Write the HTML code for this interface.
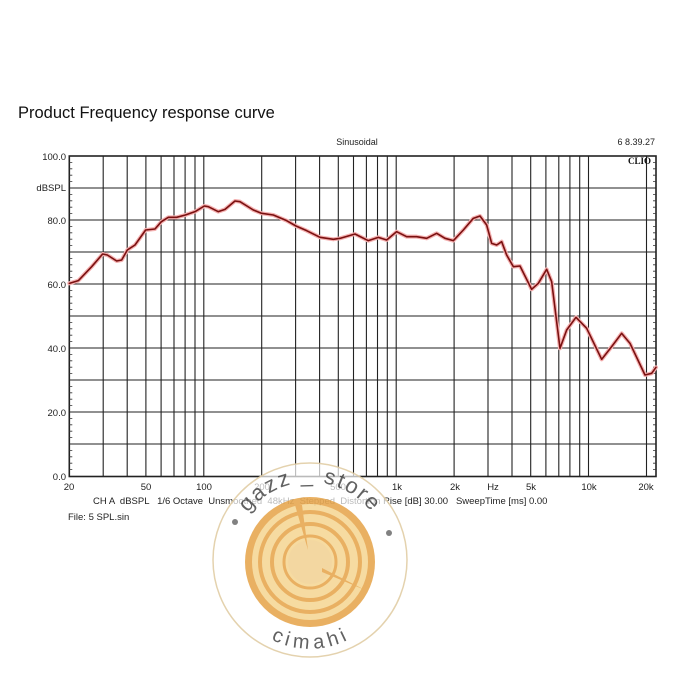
<!DOCTYPE html>
<html><head><meta charset="utf-8"><style>
html,body{margin:0;padding:0;background:#fff;}
svg{display:block;font-family:"Liberation Sans",sans-serif;}
</style></head><body>
<svg width="684" height="684" viewBox="0 0 684 684" xmlns="http://www.w3.org/2000/svg">
<rect width="684" height="684" fill="#fff"/>
<text x="18" y="118" font-size="16.5" fill="#111">Product Frequency response curve</text>
<text x="357" y="145" font-size="9" text-anchor="middle" fill="#222">Sinusoidal</text>
<text x="655" y="145" font-size="9" text-anchor="end" fill="#222">6 8.39.27</text>
<g stroke="#222" stroke-width="1.1">
<line x1="69.3" y1="188" x2="656" y2="188"/><line x1="69.3" y1="220" x2="656" y2="220"/>
<line x1="69.3" y1="252" x2="656" y2="252"/><line x1="69.3" y1="284" x2="656" y2="284"/>
<line x1="69.3" y1="316" x2="656" y2="316"/><line x1="69.3" y1="348" x2="656" y2="348"/>
<line x1="69.3" y1="380" x2="656" y2="380"/><line x1="69.3" y1="412" x2="656" y2="412"/>
<line x1="69.3" y1="444" x2="656" y2="444"/>
<line x1="103.2" y1="156" x2="103.2" y2="476"/><line x1="127.2" y1="156" x2="127.2" y2="476"/>
<line x1="145.9" y1="156" x2="145.9" y2="476"/><line x1="161.1" y1="156" x2="161.1" y2="476"/>
<line x1="174" y1="156" x2="174" y2="476"/><line x1="185.1" y1="156" x2="185.1" y2="476"/>
<line x1="195" y1="156" x2="195" y2="476"/><line x1="203.8" y1="156" x2="203.8" y2="476"/>
<line x1="261.7" y1="156" x2="261.7" y2="476"/><line x1="295.6" y1="156" x2="295.6" y2="476"/>
<line x1="319.6" y1="156" x2="319.6" y2="476"/><line x1="338.3" y1="156" x2="338.3" y2="476"/>
<line x1="353.5" y1="156" x2="353.5" y2="476"/><line x1="366.4" y1="156" x2="366.4" y2="476"/>
<line x1="377.5" y1="156" x2="377.5" y2="476"/><line x1="387.3" y1="156" x2="387.3" y2="476"/>
<line x1="396.2" y1="156" x2="396.2" y2="476"/><line x1="454.1" y1="156" x2="454.1" y2="476"/>
<line x1="488" y1="156" x2="488" y2="476"/><line x1="512" y1="156" x2="512" y2="476"/>
<line x1="530.7" y1="156" x2="530.7" y2="476"/><line x1="545.9" y1="156" x2="545.9" y2="476"/>
<line x1="558.8" y1="156" x2="558.8" y2="476"/><line x1="569.9" y1="156" x2="569.9" y2="476"/>
<line x1="579.7" y1="156" x2="579.7" y2="476"/><line x1="588.5" y1="156" x2="588.5" y2="476"/>
<line x1="646.5" y1="156" x2="646.5" y2="476"/>
</g>
<rect x="69.3" y="156" width="586.7" height="320.5" fill="none" stroke="#222" stroke-width="1.6"/>
<g stroke="#333" stroke-width="0.8">
<path d="M69.3 162.4h3M69.3 168.8h3M69.3 175.2h3M69.3 181.6h3M69.3 194.4h3M69.3 200.8h3M69.3 207.2h3M69.3 213.6h3M69.3 226.4h3M69.3 232.8h3M69.3 239.2h3M69.3 245.6h3M69.3 258.4h3M69.3 264.8h3M69.3 271.2h3M69.3 277.6h3M69.3 290.4h3M69.3 296.8h3M69.3 303.2h3M69.3 309.6h3M69.3 322.4h3M69.3 328.8h3M69.3 335.2h3M69.3 341.6h3M69.3 354.4h3M69.3 360.8h3M69.3 367.2h3M69.3 373.6h3M69.3 386.4h3M69.3 392.8h3M69.3 399.2h3M69.3 405.6h3M69.3 418.4h3M69.3 424.8h3M69.3 431.2h3M69.3 437.6h3M69.3 450.4h3M69.3 456.8h3M69.3 463.2h3M69.3 469.6h3"/>
<path d="M656 162.4h-3M656 168.8h-3M656 175.2h-3M656 181.6h-3M656 194.4h-3M656 200.8h-3M656 207.2h-3M656 213.6h-3M656 226.4h-3M656 232.8h-3M656 239.2h-3M656 245.6h-3M656 258.4h-3M656 264.8h-3M656 271.2h-3M656 277.6h-3M656 290.4h-3M656 296.8h-3M656 303.2h-3M656 309.6h-3M656 322.4h-3M656 328.8h-3M656 335.2h-3M656 341.6h-3M656 354.4h-3M656 360.8h-3M656 367.2h-3M656 373.6h-3M656 386.4h-3M656 392.8h-3M656 399.2h-3M656 405.6h-3M656 418.4h-3M656 424.8h-3M656 431.2h-3M656 437.6h-3M656 450.4h-3M656 456.8h-3M656 463.2h-3M656 469.6h-3"/>
</g>
<text x="628" y="164" font-size="9" font-weight="bold" font-family="Liberation Serif,serif" fill="#111">CLIO</text>
<g font-size="9.5" fill="#222" text-anchor="end">
<text x="66" y="160">100.0</text><text x="66" y="191">dBSPL</text>
<text x="66" y="224">80.0</text><text x="66" y="288">60.0</text>
<text x="66" y="352">40.0</text><text x="66" y="416">20.0</text><text x="66" y="480">0.0</text>
</g>
<g font-size="9.5" fill="#222" text-anchor="middle">
<text x="69" y="490">20</text><text x="146" y="490">50</text><text x="204" y="490">100</text>
<text x="262" y="490">200</text><text x="338" y="490">500</text><text x="397" y="490">1k</text>
<text x="455" y="490">2k</text><text x="493" y="490">Hz</text><text x="531" y="490">5k</text>
<text x="589" y="490">10k</text><text x="646" y="490">20k</text>
</g>
<text x="93" y="504" font-size="9.5" fill="#222" xml:space="preserve">CH A  dBSPL   1/6 Octave  Unsmoothed  48kHz  Stepped  Distortion Rise [dB] 30.00   SweepTime [ms] 0.00</text>
<text x="68" y="520" font-size="9.5" fill="#222">File: 5 SPL.sin</text>
<g transform="translate(20,130) scale(0.33333)" fill="none" stroke-linejoin="round" stroke-linecap="round">
<path stroke="#f4b0b0" stroke-width="4" vector-effect="non-scaling-stroke" d="M148 460 L175 452 L215 410 L248 372 L262 375 L290 393 L305 390 L322 360 L345 345 L377 300 L405 297 L424 275 L445 262 L470 262 L496 255 L525 245 L553 228 L565 230 L595 245 L615 238 L645 213 L660 215 L700 240 L725 250 L760 255 L800 272 L828 288 L860 302 L900 322 L940 328 L960 325 L1005 312 L1045 332 L1075 322 L1100 330 L1130 305 L1160 320 L1190 320 L1220 325 L1250 310 L1275 325 L1300 332 L1330 300 L1360 265 L1380 258 L1400 285 L1415 340 L1430 345 L1445 335 L1460 375 L1480 410 L1500 408 L1535 478 L1555 460 L1580 418 L1595 455 L1620 655 L1640 600 L1668 562 L1700 595 L1745 688 L1775 650 L1805 610 L1830 640 L1875 735 L1895 730 L1908 712"/>
<path stroke="#7a1010" stroke-width="1.6" vector-effect="non-scaling-stroke" d="M148 460 L175 452 L215 410 L248 372 L262 375 L290 393 L305 390 L322 360 L345 345 L377 300 L405 297 L424 275 L445 262 L470 262 L496 255 L525 245 L553 228 L565 230 L595 245 L615 238 L645 213 L660 215 L700 240 L725 250 L760 255 L800 272 L828 288 L860 302 L900 322 L940 328 L960 325 L1005 312 L1045 332 L1075 322 L1100 330 L1130 305 L1160 320 L1190 320 L1220 325 L1250 310 L1275 325 L1300 332 L1330 300 L1360 265 L1380 258 L1400 285 L1415 340 L1430 345 L1445 335 L1460 375 L1480 410 L1500 408 L1535 478 L1555 460 L1580 418 L1595 455 L1620 655 L1640 600 L1668 562 L1700 595 L1745 688 L1775 650 L1805 610 L1830 640 L1875 735 L1895 730 L1908 712"/>
</g>
<g opacity="0.92">
<circle cx="310" cy="560" r="97" fill="#fff" fill-opacity="0.75" stroke="#e2cfa8" stroke-width="1.5"/>
<circle cx="310" cy="562" r="65" fill="#e8aa55"/>
<circle cx="310" cy="562" r="58" fill="#f6d99a"/>
<circle cx="310" cy="562" r="50" fill="none" stroke="#e8aa55" stroke-width="4"/>
<circle cx="310" cy="562" r="38" fill="none" stroke="#e8aa55" stroke-width="4"/>
<circle cx="310" cy="562" r="26" fill="none" stroke="#e8aa55" stroke-width="3"/>
<circle cx="310" cy="562" r="22" fill="#f3d49a"/>
<path d="M295 505 L308 550 L302 505 Z" fill="#e8aa55"/>
<path d="M322 568 L365 590 L322 572 Z" fill="#e8aa55"/>
<circle cx="235" cy="522" r="3" fill="#777"/>
<circle cx="389" cy="533" r="3" fill="#777"/>
<defs>
<path id="arcTop" d="M232 560 A78 78 0 0 1 388 560"/>
<path id="arcBot" d="M240 580 A72 72 0 0 0 380 580"/>
</defs>
<text font-size="22" fill="#555" letter-spacing="2"><textPath href="#arcTop" startOffset="50%" text-anchor="middle">gazz _ store</textPath></text>
<text font-size="20" fill="#555" letter-spacing="2"><textPath href="#arcBot" startOffset="50%" text-anchor="middle" dominant-baseline="hanging">cimahi</textPath></text>
</g>
</svg>
</body></html>
